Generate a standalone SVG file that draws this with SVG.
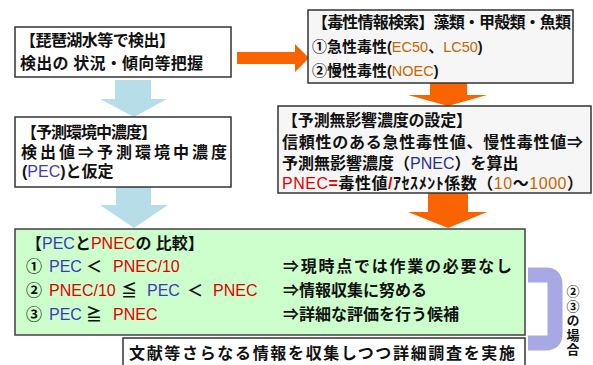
<svg xmlns="http://www.w3.org/2000/svg" width="593" height="365" viewBox="0 0 593 365">
<style>
.box{fill:#ffffff;stroke:#333333;stroke-width:1.5}
.gbox{fill:#f6f6f6;stroke:#333333;stroke-width:1.5}
.green{fill:#ccffcc;stroke:#404040;stroke-width:1.5}
.t{font-family:"Liberation Sans","Noto Sans CJK JP","Noto Sans CJK SC",sans-serif;font-weight:bold;font-size:16px;fill:#111111}
.l{font-weight:normal}
.s{font-size:15px}
.sm{font-size:14.5px}
.pec{fill:#3a3ac0}
.pnec{fill:#e00000}
.dk{fill:#26308f}
.or{fill:#c86400}
.blue{fill:#b7dee8}
.orange{fill:#fa6400}
.vert{writing-mode:vertical-rl;font-size:13px;letter-spacing:1.5px}
</style>
<g id="connectors">
<polygon class="blue" points="115,80 151,80 151,99 167,99 134,117 100,99 115,99"/>
<polygon class="blue" points="116,187 151,187 151,205 168,205 134,228 100,205 116,205"/>
<polygon class="orange" points="237,52 295,52 295,44 309,58 295,72 295,64 237,64"/>
<polygon class="orange" points="430,83 467,83 467,95 487,95 448,106 408,95 430,95"/>
<polygon class="orange" points="428,193 468,193 468,212 487,212 448,228 408,212 428,212"/>
<path d="M528,275 H546 Q555,275 555,284 V334 Q555,343 546,343 H528" fill="none" stroke="#a8a8e4" stroke-width="15"/>
</g>
<g id="detect">
<rect class="box" x="15" y="27" width="216" height="50"/>
<text class="t" x="20" y="46" textLength="155">【琵琶湖水等で検出】</text>
<text class="t" x="20" y="69" textLength="183">検出の 状況・傾向等把握</text>
</g>
<g id="toxicity">
<rect class="gbox" x="308" y="10" width="265" height="73"/>
<text class="t" x="312" y="28" textLength="259">【毒性情報検索】藻類・甲殻類・魚類</text>
<text class="t s" x="312" y="52">①急性毒性<tspan class="sm">(</tspan><tspan class="l or sm">EC50</tspan>、<tspan class="l or sm">LC50</tspan><tspan class="sm">)</tspan></text>
<text class="t s" x="312" y="76">②慢性毒性<tspan class="sm">(</tspan><tspan class="l or sm">NOEC</tspan><tspan class="sm">)</tspan></text>
</g>
<g id="pec">
<rect class="box" x="15" y="117" width="216" height="70"/>
<text class="t" x="21" y="138" textLength="136">【予測環境中濃度】</text>
<text class="t" x="21" y="158" textLength="206">検出値⇒予測環境中濃度</text>
<text class="t" x="22" y="177">(<tspan class="l pec">PEC</tspan>)と仮定</text>
</g>
<g id="pnec">
<rect class="gbox" x="278" y="106" width="313" height="87"/>
<text class="t" x="282" y="126" textLength="190">【予測無影響濃度の設定】</text>
<text class="t" x="282" y="148" textLength="301">信頼性のある急性毒性値、慢性毒性値⇒</text>
<text class="t" x="282" y="169">予測無影響濃度（<tspan class="l dk">PNEC</tspan>）を算出</text>
<text class="t" x="282" y="189" textLength="301"><tspan class="l pnec">PNEC</tspan><tspan class="pnec">=</tspan>毒性値<tspan class="pnec">/</tspan>ｱｾｽﾒﾝﾄ係数（<tspan class="l or">10</tspan>～<tspan class="l or">1000</tspan>）</text>
</g>
<g id="compare">
<rect class="green" x="15" y="229" width="510" height="106"/>
<text class="t" x="26" y="249">【<tspan class="l pec">PEC</tspan>と<tspan class="l pnec">PNEC</tspan>の 比較】</text>
<text class="t" x="26" y="272">①<tspan class="l pec" x="49">PEC</tspan><tspan x="86">＜</tspan><tspan class="l pnec" x="113">PNEC/10</tspan></text>
<text class="t" x="26" y="296">②<tspan class="l pnec" x="49">PNEC/10</tspan><tspan x="121">≦</tspan><tspan class="l pec" x="147">PEC</tspan><tspan x="187">＜</tspan><tspan class="l pnec" x="213">PNEC</tspan></text>
<text class="t" x="26" y="320">③<tspan class="l pec" x="49">PEC</tspan><tspan x="86">≧</tspan><tspan class="l pnec" x="113">PNEC</tspan></text>
<text class="t" x="283" y="272" textLength="229">⇒現時点では作業の必要なし</text>
<text class="t" x="283" y="296">⇒情報収集に努める</text>
<text class="t" x="283" y="320">⇒詳細な評価を行う候補</text>
</g>
<g id="survey">
<rect class="box" x="123" y="338" width="402" height="40"/>
<text class="t" x="129" y="359" textLength="386">文献等さらなる情報を収集しつつ詳細調査を実施</text>
</g>
<g id="case-label">
<text class="t vert" x="572" y="285">②③の場合</text>
</g>
</svg>
